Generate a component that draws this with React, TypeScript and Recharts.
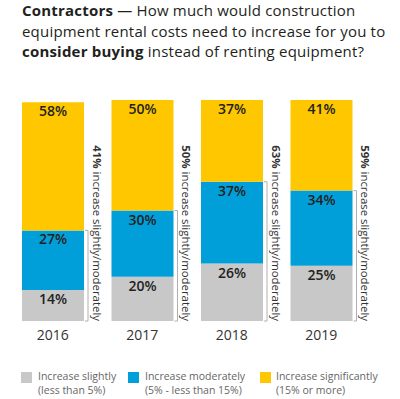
import React from 'react';
import { BarChart, Bar, XAxis, YAxis, LabelList } from 'recharts';

const years = ['2016', '2017', '2018', '2019'];
const slightly = [14, 20, 26, 25];
const moderately = [27, 30, 37, 34];
const significantly = [58, 50, 37, 41];
const slightlyOrModerately = [41, 50, 63, 59];

const legendItems = [
  { color: '#c8c8c8', line1: 'Increase slightly', line2: '(less than 5%)', left: 21, textLeft: 38 },
  { color: '#009fda', line1: 'Increase moderately', line2: '(5% - less than 15%)', left: 128, textLeft: 145 },
  { color: '#ffc700', line1: 'Increase significantly', line2: '(15% or more)', left: 260, textLeft: 276 },
];

const data = years.map((year, i) => ({
  year,
  slightly: slightly[i],
  moderately: moderately[i],
  significantly: significantly[i],
}));

const FONT = '"Open Sans", sans-serif';

// recharts 3 passes the segment box either flat or in viewBox
const getBox = (p: any) => {
  const vb = p.viewBox && p.viewBox.width !== undefined ? p.viewBox : p;
  return { x: Number(vb.x), y: Number(vb.y), width: Number(vb.width), height: Number(vb.height) };
};

const valueLabel = (p: any) => {
  const { x, y, width } = getBox(p);
  return (
    <text x={x + width / 2} y={y + 14} textAnchor="middle" fontFamily={FONT} fontSize={14} fontWeight={600} fill="#231f20">
      {p.value}%
    </text>
  );
};

const bracketLabel = (p: any) => {
  const { x, y, width, height } = getBox(p);
  const i = p.index;
  const bottom = y + height;
  const perUnit = height / slightly[i];
  const top = bottom - (slightly[i] + moderately[i]) * perUnit;
  const bx = x + width + 4;
  const tx = x + width + 13.5;
  return (
    <g>
      <path d={`M${bx - 3},${top} H${bx} V${bottom} H${bx - 3}`} stroke="#b0b0b0" strokeWidth={1} fill="none" />
      <text
        x={tx}
        y={bottom}
        transform={`rotate(90 ${tx} ${bottom})`}
        textAnchor="end"
        dominantBaseline="central"
        fontFamily={FONT}
        fontSize={11.4}
        fill="#333"
      >
        <tspan fontWeight={700}>{slightlyOrModerately[i]}%</tspan>
        <tspan> increase slightly/moderately</tspan>
      </text>
    </g>
  );
};

const yearTick = (p: any) => (
  <text x={p.x} y={p.y + 19} textAnchor="middle" fontFamily={FONT} fontSize={14} fill="#333">
    {p.payload.value}
  </text>
);

export default function App() {
  return (
    <div style={{ position: 'absolute', left: 0, top: 0, width: 400, height: 399, background: '#fff', fontFamily: FONT }}>
      <div
        style={{
          position: 'absolute',
          left: 22,
          top: 0,
          fontSize: 15,
          lineHeight: '20.5px',
          letterSpacing: 0.2,
          color: '#231f20',
          whiteSpace: 'nowrap',
        }}
      >
        <div>
          <b>Contractors</b> — How much would construction
        </div>
        <div>equipment rental costs need to increase for you to</div>
        <div>
          <b>consider buying</b> instead of renting equipment?
        </div>
      </div>
      <BarChart
        width={400}
        height={399}
        data={data}
        margin={{ top: 100, right: 34, bottom: 48, left: 8 }}
        barSize={62}
      >
        <XAxis dataKey="year" tickLine={false} axisLine={false} tickSize={0} tickMargin={0} height={30} tick={yearTick} />
        <YAxis hide domain={[0, 100]} />
        <Bar dataKey="slightly" stackId="a" fill="#c8c8c8" isAnimationActive={false}>
          <LabelList dataKey="slightly" content={valueLabel} />
          <LabelList dataKey="slightly" content={bracketLabel} />
        </Bar>
        <Bar dataKey="moderately" stackId="a" fill="#009fda" isAnimationActive={false}>
          <LabelList dataKey="moderately" content={valueLabel} />
        </Bar>
        <Bar dataKey="significantly" stackId="a" fill="#ffc700" isAnimationActive={false}>
          <LabelList dataKey="significantly" content={valueLabel} />
        </Bar>
      </BarChart>
      {legendItems.map((item) => (
        <div key={item.line1}>
          <div style={{ position: 'absolute', left: item.left, top: 372, width: 11, height: 10.5, background: item.color }} />
          <div style={{ position: 'absolute', left: item.textLeft, top: 368.8, fontSize: 10.5, lineHeight: '14.3px', color: '#666', whiteSpace: 'nowrap' }}>
            {item.line1}
            <br />
            {item.line2}
          </div>
        </div>
      ))}
    </div>
  );
}
